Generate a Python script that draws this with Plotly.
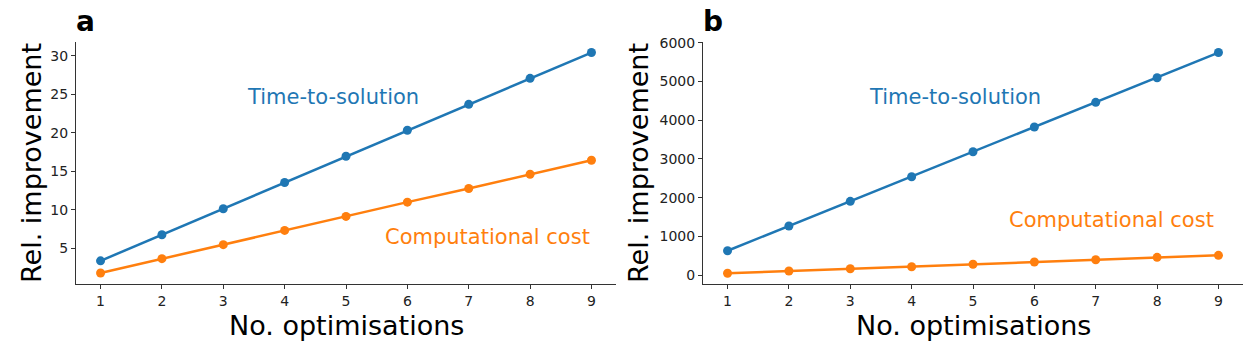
import plotly.graph_objects as go

W, H = 1260, 352
n_opt = [1, 2, 3, 4, 5, 6, 7, 8, 9]
tts_a = [3.38, 6.77, 10.14, 13.55, 16.96, 20.34, 23.70, 27.08, 30.43]
cost_a = [1.80, 3.66, 5.48, 7.33, 9.15, 11.00, 12.77, 14.62, 16.44]
tts_b = [634, 1271, 1908, 2543, 3187, 3824, 4461, 5096, 5745]
cost_b = [52, 111, 170, 222, 284, 343, 402, 464, 516]
yticks_a = [5, 10, 15, 20, 25, 30]
yticks_b = [0, 1000, 2000, 3000, 4000, 5000, 6000]

BLUE = "#1f77b4"
ORANGE = "#ff7f0e"
FONT = "DejaVu Sans"

fig = go.Figure()
for xa, ya, tts, cost in [("x", "y", tts_a, cost_a), ("x2", "y2", tts_b, cost_b)]:
    for vals, col in [(tts, BLUE), (cost, ORANGE)]:
        fig.add_trace(go.Scatter(x=n_opt, y=vals, mode="lines+markers", xaxis=xa, yaxis=ya,
                                 line=dict(color=col, width=2.5),
                                 marker=dict(color=col, size=9), showlegend=False))

def px(x):
    return x / W

def py(y):
    return 1 - y / H

ydom = [py(284), py(42)]
axis_common = dict(showgrid=False, zeroline=False, showline=True, linecolor="#333", linewidth=1,
                   ticks="outside", ticklen=4, tickwidth=1, tickcolor="#333", automargin=False,
                   tickfont=dict(family=FONT, size=14, color="#222"), mirror=False)

fig.update_layout(
    width=W, height=H, margin=dict(l=0, r=0, t=0, b=0, autoexpand=False),
    showlegend=False,
    plot_bgcolor="white", paper_bgcolor="white",
    xaxis=dict(domain=[px(76), px(616)], range=[0.6, 9.4], tickvals=n_opt, anchor="y", **axis_common),
    yaxis=dict(domain=ydom, range=[0.37, 31.8], tickvals=yticks_a, anchor="x", **axis_common),
    xaxis2=dict(domain=[px(703), px(1243)], range=[0.6, 9.4], tickvals=n_opt, anchor="y2", **axis_common),
    yaxis2=dict(domain=ydom, range=[-224, 6017], tickvals=yticks_b, anchor="x2", **axis_common),
)

anns = []
# axis titles
for cx in [346, 973]:
    anns.append(dict(text="No. optimisations", x=px(cx), y=py(325), xref="paper", yref="paper",
                     showarrow=False, xanchor="center", yanchor="middle",
                     font=dict(family=FONT, size=27, color="black")))
for cx in [31, 638]:
    anns.append(dict(text="Rel. improvement", x=px(cx), y=py(163), xref="paper", yref="paper",
                     showarrow=False, xanchor="center", yanchor="middle", textangle=-90,
                     font=dict(family=FONT, size=27, color="black")))
# panel labels
for lab, cx in [("a", 85), ("b", 713)]:
    anns.append(dict(text="<b>%s</b>" % lab, x=px(cx), y=py(21), xref="paper", yref="paper",
                     showarrow=False, xanchor="center", yanchor="middle",
                     font=dict(family=FONT, size=28, color="black")))
# series labels
anns += [
    dict(text="Time-to-solution", x=4.78, y=24.6, xref="x", yref="y", showarrow=False,
         font=dict(family=FONT, size=21, color=BLUE)),
    dict(text="Computational cost", x=7.30, y=6.45, xref="x", yref="y", showarrow=False,
         font=dict(family=FONT, size=21, color=ORANGE)),
    dict(text="Time-to-solution", x=4.71, y=4590, xref="x2", yref="y2", showarrow=False,
         font=dict(family=FONT, size=21, color=BLUE)),
    dict(text="Computational cost", x=7.25, y=1430, xref="x2", yref="y2", showarrow=False,
         font=dict(family=FONT, size=21, color=ORANGE)),
]
fig.update_layout(annotations=anns)

post = (
    "document.documentElement.style.margin='0';"
    "document.documentElement.style.overflow='hidden';"
    "document.body.style.margin='0';"
    "document.body.style.padding='0';"
    "document.body.style.overflow='hidden';"
    "var gd=document.getElementById('{plot_id}');"
    "gd.style.position='fixed';gd.style.top='0px';gd.style.left='0px';"
)
fig.write_html("out.html", config={"displayModeBar": False}, post_script=post)
